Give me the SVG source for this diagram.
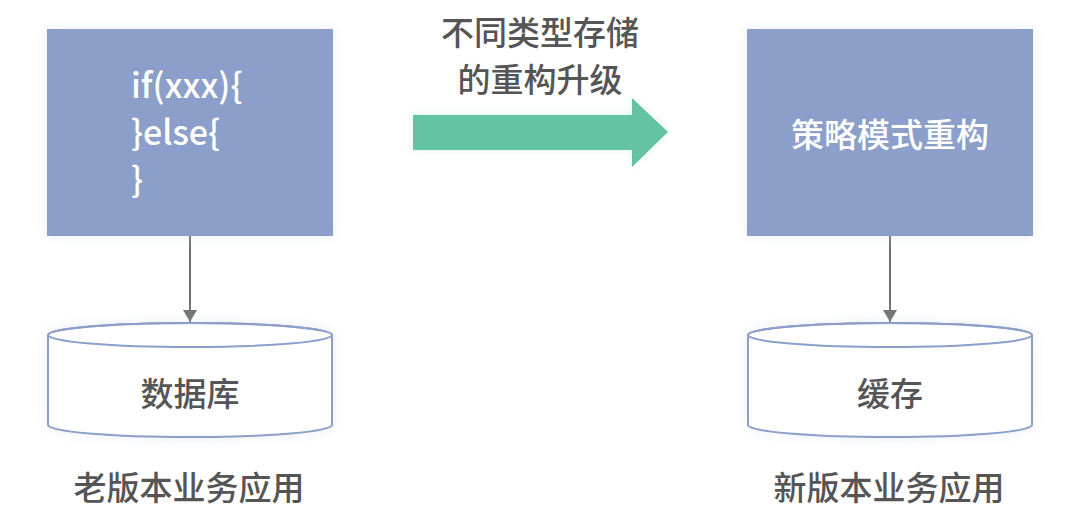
<svg xmlns="http://www.w3.org/2000/svg" width="1089" height="523" viewBox="0 0 1089 523">
<style>
.t{font-family:"Noto Sans CJK SC","Noto Sans",sans-serif;font-size:33px;font-weight:500;fill:#555555;}
.w{fill:#ffffff;}
.c{font-size:34px;}
.box{fill:#8c9fca;filter:url(#glow);}
.cyl{fill:#ffffff;stroke:#8c9fca;stroke-width:2;}
.conn{stroke:#737373;stroke-width:2;fill:none;}
</style>
<defs>
<filter id="glow" x="-20%" y="-20%" width="140%" height="140%">
<feGaussianBlur in="SourceAlpha" stdDeviation="6"/>
<feColorMatrix values="0 0 0 0 0.55  0 0 0 0 0.62  0 0 0 0 0.8  0 0 0 0.35 0"/>
<feMerge><feMergeNode/><feMergeNode in="SourceGraphic"/></feMerge>
</filter>
<filter id="gglow" x="-20%" y="-40%" width="140%" height="180%">
<feGaussianBlur in="SourceAlpha" stdDeviation="5"/>
<feColorMatrix values="0 0 0 0 0.4  0 0 0 0 0.76  0 0 0 0 0.63  0 0 0 0.35 0"/>
<feMerge><feMergeNode/><feMergeNode in="SourceGraphic"/></feMerge>
</filter>
<marker id="ah" markerWidth="12" markerHeight="14" refX="12" refY="7" orient="auto" markerUnits="userSpaceOnUse">
<path d="M0,0 L12,7 L0,14 Z" fill="#737373"/>
</marker>
</defs>

<g id="connectors">
<line class="conn" x1="190" y1="236" x2="190" y2="322" marker-end="url(#ah)"/>
<line class="conn" x1="890" y1="236" x2="890" y2="322" marker-end="url(#ah)"/>
</g>

<g id="old-code">
<rect class="box" x="47" y="29" width="286" height="207"/>
<text class="t w c" x="131" y="98">if(xxx){</text>
<text class="t w c" x="131" y="145">}else{</text>
<text class="t w c" x="131" y="192">}</text>
</g>

<g id="old-db">
<g filter="url(#glow)">
<path class="cyl" d="M48,335 L48,425 A142,12 0 0 0 332,425 L332,335 A142,12 0 0 0 48,335 Z"/>
</g>
<ellipse cx="190" cy="335" rx="142" ry="12" fill="none" stroke="#8c9fca" stroke-width="2"/>
<text class="t" x="190" y="392" text-anchor="middle" dominant-baseline="central">数据库</text>
</g>

<g id="old-label">
<text class="t" x="189" y="486" text-anchor="middle" dominant-baseline="central">老版本业务应用</text>
</g>

<g id="upgrade">
<path d="M413,115 L632,115 L632,98 L668,132 L632,167 L632,150 L413,150 Z" fill="#64c3a2" filter="url(#gglow)"/>
<text class="t" x="540" y="31" text-anchor="middle" dominant-baseline="central">不同类型存储</text>
<text class="t" x="540" y="78" text-anchor="middle" dominant-baseline="central">的重构升级</text>
</g>

<g id="new-code">
<rect class="box" x="747" y="29" width="286" height="207"/>
<text class="t w" x="890" y="133" text-anchor="middle" dominant-baseline="central">策略模式重构</text>
</g>

<g id="new-cache">
<g filter="url(#glow)">
<path class="cyl" d="M748,335 L748,425 A142,12 0 0 0 1032,425 L1032,335 A142,12 0 0 0 748,335 Z"/>
</g>
<ellipse cx="890" cy="335" rx="142" ry="12" fill="none" stroke="#8c9fca" stroke-width="2"/>
<text class="t" x="890" y="392" text-anchor="middle" dominant-baseline="central">缓存</text>
</g>

<g id="new-label">
<text class="t" x="889" y="486" text-anchor="middle" dominant-baseline="central">新版本业务应用</text>
</g>
</svg>
